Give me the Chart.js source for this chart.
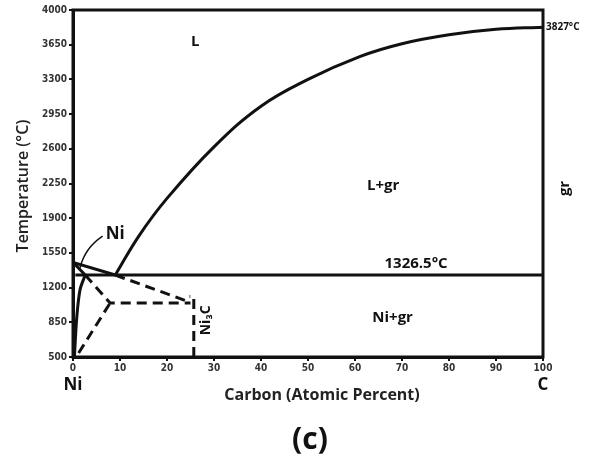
<!DOCTYPE html>
<html>
<head>
<meta charset="utf-8">
<script src="https://cdn.jsdelivr.net/npm/chart.js@4"></script>
<style>
  body { margin: 0; background: #fff; }
  #box { width: 597px; height: 470px; }
</style>
</head>
<body>
<div id="box"><canvas id="myChart"></canvas></div>
<script>
const xTicks = [0, 10, 20, 30, 40, 50, 60, 70, 80, 90, 100];
const yTicks = [500, 850, 1200, 1550, 1900, 2250, 2600, 2950, 3300, 3650, 4000];

const liqC = [9, 14, 20, 30, 40, 50, 61, 70, 80, 90, 100];
const liqT = [1326.5, 1720, 2100, 2620, 3030, 3300, 3530, 3660, 3750, 3805, 3827];

const eutC = [0.5, 100];
const eutT = [1326.5, 1326.5];

const niLiqC = [0, 9];
const niLiqT = [1455, 1326.5];

const niSolC = [0, 2.6];
const niSolT = [1455, 1326.5];

const solvusC = [0.3, 0.8, 1.5, 2.6];
const solvusT = [500, 900, 1180, 1326.5];

// linhas tracejadas (Ni3C metaestável)
const dash1C = [2.6, 7.9, 25];
const dash1T = [1326.5, 1045, 1045];
const dash2C = [1.2, 7.9];
const dash2T = [540, 1045];
const dash3C = [9, 24.5];
const dash3T = [1326.5, 1060];
const ni3cC = [25.7, 25.7, 24.8];
const ni3cT = [500, 1110, 1110];

const pontos = (xs, ys) => xs.map((x, i) => ({ x: x, y: ys[i] }));

// rótulos das regiões
const rotulos = [
  { t: 'L', x: 26, y: 3680, size: 15 },
  { t: 'L+gr', x: 66, y: 2230, size: 15 },
  { t: '1326.5°C', x: 73, y: 1440, size: 15 },
  { t: 'Ni+gr', x: 68, y: 900, size: 15 },
  { t: 'Ni', x: 9, y: 1740, size: 17 },
  { t: '3827°C', x: 105, y: 3827, size: 10, align: 'left' }
];

function linha(data, dash, tension) {
  return {
    data: data,
    showLine: true,
    borderColor: '#111',
    borderWidth: 3,
    borderDash: dash ? [10, 6] : [],
    tension: tension || 0,
    pointRadius: 0,
    fill: false
  };
}

const textos = {
  id: 'textos',
  afterDraw(chart) {
    const c = chart.ctx;
    const xs = chart.scales.x, ys = chart.scales.y;
    const a = chart.chartArea;
    c.save();
    // moldura
    c.strokeStyle = '#111';
    c.lineWidth = 3;
    c.strokeRect(a.left, a.top, a.right - a.left, a.bottom - a.top);
    c.fillStyle = '#111';
    c.textBaseline = 'middle';
    rotulos.forEach(r => {
      c.font = 'bold ' + r.size + 'px "Open Sans"';
      c.textAlign = r.align || 'center';
      let px = xs.getPixelForValue(r.x);
      if (r.align === 'left') px = a.right + 3;
      c.fillText(r.t, px, ys.getPixelForValue(r.y));
    });
    // ponteiro do rótulo Ni
    c.lineWidth = 1.5;
    c.beginPath();
    c.moveTo(xs.getPixelForValue(6.3), ys.getPixelForValue(1720));
    c.quadraticCurveTo(xs.getPixelForValue(2.5), ys.getPixelForValue(1600),
      xs.getPixelForValue(1.5), ys.getPixelForValue(1400));
    c.stroke();
    // textos verticais
    c.font = 'bold 15px "Open Sans"';
    c.textAlign = 'center';
    c.save();
    c.translate(a.right + 22, ys.getPixelForValue(2200));
    c.rotate(-Math.PI / 2);
    c.fillText('gr', 0, 0);
    c.restore();
    c.save();
    c.translate(xs.getPixelForValue(28.3), ys.getPixelForValue(870));
    c.rotate(-Math.PI / 2);
    c.font = 'bold 14px "Open Sans"';
    c.fillText('Ni₃C', 0, 0);
    c.restore();
    // títulos dos eixos
    c.fillStyle = '#222';
    c.font = '600 16px "Open Sans"';
    c.save();
    c.translate(23, 186);
    c.rotate(-Math.PI / 2);
    c.fillText('Temperature (°C)', 0, 0);
    c.restore();
    c.font = 'bold 16px "Open Sans"';
    c.fillText('Carbon (Atomic Percent)', 322, 395);
    // Ni e C embaixo do eixo
    c.fillStyle = '#111';
    c.font = 'bold 17px "Open Sans"';
    c.fillText('Ni', xs.getPixelForValue(0), a.bottom + 28);
    c.fillText('C', xs.getPixelForValue(100), a.bottom + 28);
    c.font = 'bold 30px "Open Sans"';
    c.fillText('(c)', 310, 440);
    c.restore();
  }
};

const ctx = document.getElementById('myChart').getContext('2d');
const myChart = new Chart(ctx, {
  type: 'scatter',
  data: {
    datasets: [
      linha(pontos(liqC, liqT), false, 0.4),
      linha(pontos(eutC, eutT)),
      linha(pontos(niLiqC, niLiqT)),
      linha(pontos(niSolC, niSolT)),
      linha(pontos(solvusC, solvusT), false, 0.3),
      linha(pontos(dash1C, dash1T), true),
      linha(pontos(dash2C, dash2T), true),
      linha(pontos(dash3C, dash3T), true),
      linha(pontos(ni3cC, ni3cT), true)
    ]
  },
  options: {
    responsive: true,
    maintainAspectRatio: false,
    animation: false,
    plugins: { legend: { display: false }, tooltip: { enabled: false } },
    layout: { padding: { top: 10, right: 54, left: 0, bottom: 0 } },
    scales: {
      x: {
        type: 'linear',
        min: 0, max: 100,
        afterBuildTicks: s => { s.ticks = xTicks.map(v => ({ value: v })); },
        afterFit: s => { s.height = 113; },
        grid: { drawOnChartArea: false, drawTicks: true, tickLength: 4, color: '#111', lineWidth: 2 },
        border: { color: '#111', width: 3 },
        ticks: { color: '#333', padding: 1, callback: v => String(v),
          font: { family: 'DejaVu Sans Condensed', size: 10, weight: 'bold' } }
      },
      y: {
        type: 'linear',
        min: 500, max: 4000,
        afterBuildTicks: s => { s.ticks = yTicks.map(v => ({ value: v })); },
        afterFit: s => { s.width = 73; },
        grid: { drawOnChartArea: false, drawTicks: true, tickLength: 4, color: '#111', lineWidth: 2 },
        border: { color: '#111', width: 3 },
        ticks: { color: '#333', padding: 2, callback: v => String(v),
          font: { family: 'DejaVu Sans Condensed', size: 10, weight: 'bold' } }
      }
    }
  },
  plugins: [textos]
});
</script>
</body>
</html>
